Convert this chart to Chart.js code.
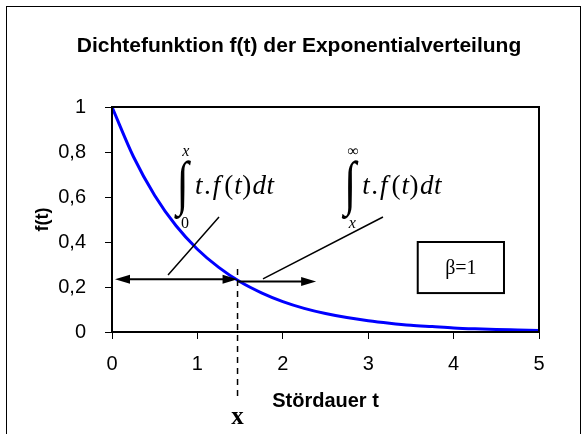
<!DOCTYPE html>
<html>
<head>
<meta charset="utf-8">
<script src="https://cdn.jsdelivr.net/npm/chart.js@4/dist/chart.umd.min.js"></script>
<style>
  html, body { margin: 0; padding: 0; background: #fff; }
  #wrap { position: relative; width: 584px; height: 434px; overflow: hidden; }
  #frame { position: absolute; left: 6px; top: 6px; width: 573px; height: 480px; border: 1.5px solid #000; }
  canvas { position: absolute; left: 0; top: 0; }
</style>
</head>
<body>
<div id="wrap">
  <div id="frame"></div>
  <canvas id="myChart" width="584" height="434"></canvas>
</div>
<script>
  // Werte
  const tValues = [0, 0.25, 0.5, 0.75, 1, 1.25, 1.5, 1.75, 2, 2.25, 2.5, 2.75, 3, 3.25, 3.5, 3.75, 4, 4.25, 4.5, 4.75, 5];
  const fValues = [1, 0.78, 0.607, 0.472, 0.368, 0.287, 0.223, 0.174, 0.135, 0.105, 0.082, 0.064, 0.05, 0.039, 0.03, 0.024, 0.018, 0.014, 0.011, 0.009, 0.007];
  const xTicks = [0, 1, 2, 3, 4, 5];
  const xTickLabels = ["0", "1", "2", "3", "4", "5"];
  const yTicks = [0, 0.2, 0.4, 0.6, 0.8, 1];
  const yTickLabels = ["0", "0,2", "0,4", "0,6", "0,8", "1"];
  const xMark = 1.47;        // Stelle x
  const arrowLevel = 0.235;  // Höhe der Pfeile

  const title = "Dichtefunktion f(t) der Exponentialverteilung";
  const xTitle = "Stördauer t";
  const yTitle = "f(t)";

  const serif = '"Liberation Serif", "Times New Roman", serif';
  const sans = '"Liberation Sans", Arial, sans-serif';

  function arrowHead(ctx, x, y, dir) {
    ctx.beginPath();
    ctx.moveTo(x, y);
    ctx.lineTo(x - dir * 15, y - 4.5);
    ctx.lineTo(x - dir * 15, y + 4.5);
    ctx.closePath();
    ctx.fill();
  }

  // Formel stückweise zeichnen: t.f(t)dt
  function formula(ctx, x, y) {
    const it = "italic 27px " + serif, rm = "27px " + serif;
    const parts = [[it, "t", 1.5], [rm, ".", 2], [it, "f", 4], [rm, "(", 1], [it, "t", 0.5], [rm, ")", 1.5], [it, "d", 0.5], [it, "t", 0]];
    let cx = x;
    ctx.textAlign = "left";
    ctx.textBaseline = "middle";
    for (const [f, s, gap] of parts) {
      ctx.font = f;
      ctx.fillText(s, cx, y);
      cx += ctx.measureText(s).width + gap;
    }
  }

  function integral(ctx, xs, ys, t, y, upper, lower) {
    const px = xs.getPixelForValue(t), py = ys.getPixelForValue(y);
    ctx.textAlign = "center";
    ctx.textBaseline = "middle";
    ctx.save();
    ctx.translate(px, py);
    ctx.scale(1.05, 1.42);
    ctx.font = "42px " + serif;
    ctx.fillText("\u222B", 0, 0);
    ctx.restore();
    ctx.font = (upper === "x" ? "italic " : "") + "16px " + serif;
    ctx.fillText(upper, px + 3, py - 35);
    ctx.font = (lower === "0" ? "" : "italic ") + "16px " + serif;
    ctx.fillText(lower, px + 2, py + 37);
    formula(ctx, px + 12, py);
  }

  const decorations = {
    id: "decorations",
    afterDraw(chart) {
      const ctx = chart.ctx;
      const xs = chart.scales.x, ys = chart.scales.y;
      const a = chart.chartArea;
      ctx.save();
      ctx.fillStyle = "#000";
      ctx.strokeStyle = "#000";

      // Rahmen der Zeichenfläche
      ctx.lineWidth = 2;
      ctx.strokeRect(a.left, a.top, a.right - a.left, a.bottom - a.top);

      // Titel und Achsentitel
      ctx.textAlign = "center";
      ctx.textBaseline = "middle";
      ctx.font = "bold 21px " + sans;
      ctx.fillText(title, 299, 46);
      ctx.font = "bold 20px " + sans;
      ctx.fillText(xTitle, (a.left + a.right) / 2, 401);
      ctx.save();
      ctx.translate(43, (a.top + a.bottom) / 2);
      ctx.rotate(-Math.PI / 2);
      ctx.font = "bold 18px " + sans;
      ctx.fillText(yTitle, 0, 0);
      ctx.restore();

      // gestrichelte Linie bei x
      const mx = xs.getPixelForValue(xMark);
      ctx.lineWidth = 1.5;
      ctx.setLineDash([6, 5]);
      ctx.beginPath();
      ctx.moveTo(mx, ys.getPixelForValue(0.28));
      ctx.lineTo(mx, ys.getPixelForValue(-0.29));
      ctx.stroke();
      ctx.setLineDash([]);
      ctx.font = "bold 25px " + serif;
      ctx.fillText("x", mx, ys.getPixelForValue(-0.378));

      // Pfeile
      ctx.lineWidth = 2;
      const ly = ys.getPixelForValue(arrowLevel);
      const lx0 = xs.getPixelForValue(0.035);
      ctx.beginPath();
      ctx.moveTo(lx0 + 10, ly);
      ctx.lineTo(mx - 10, ly);
      ctx.stroke();
      arrowHead(ctx, lx0, ly, -1);
      arrowHead(ctx, mx, ly, 1);
      const ry = ys.getPixelForValue(arrowLevel - 0.01);
      const rx1 = xs.getPixelForValue(2.39);
      ctx.beginPath();
      ctx.moveTo(mx, ry);
      ctx.lineTo(rx1 - 10, ry);
      ctx.stroke();
      arrowHead(ctx, rx1, ry, 1);

      // Hinweislinien
      ctx.lineWidth = 1.5;
      ctx.beginPath();
      ctx.moveTo(xs.getPixelForValue(0.656), ys.getPixelForValue(0.253));
      ctx.lineTo(xs.getPixelForValue(1.253), ys.getPixelForValue(0.511));
      ctx.moveTo(xs.getPixelForValue(1.768), ys.getPixelForValue(0.236));
      ctx.lineTo(xs.getPixelForValue(3.173), ys.getPixelForValue(0.511));
      ctx.stroke();

      // Integrale
      integral(ctx, xs, ys, 0.83, 0.645, "x", "0");
      integral(ctx, xs, ys, 2.79, 0.645, "\u221E", "x");

      // Beta-Kasten
      const bx0 = xs.getPixelForValue(3.58), bx1 = xs.getPixelForValue(4.59);
      const by0 = ys.getPixelForValue(0.40), by1 = ys.getPixelForValue(0.173);
      ctx.lineWidth = 2;
      ctx.strokeRect(bx0, by0, bx1 - bx0, by1 - by0);
      ctx.font = "20px " + serif;
      ctx.textAlign = "center";
      ctx.fillText("\u03B2=1", (bx0 + bx1) / 2, (by0 + by1) / 2 + 1);
      ctx.restore();
    }
  };

  const points = tValues.map((t, i) => ({ x: t, y: fValues[i] }));

  new Chart(document.getElementById("myChart"), {
    type: "line",
    data: {
      datasets: [{
        data: points,
        borderColor: "#0000ff",
        borderWidth: 3,
        pointRadius: 0,
        cubicInterpolationMode: "monotone",
        fill: false
      }]
    },
    options: {
      responsive: false,
      animation: false,
      layout: { padding: { top: 107, right: 45, left: 0, bottom: 0 } },
      plugins: { legend: { display: false }, title: { display: false }, tooltip: { enabled: false } },
      scales: {
        x: {
          type: "linear",
          min: 0, max: 5,
          afterBuildTicks: s => { s.ticks = xTicks.map(v => ({ value: v })); },
          afterFit: s => { s.height = 102; },
          ticks: {
            color: "#000",
            font: { family: sans, size: 20 },
            padding: 13,
            maxRotation: 0,
            callback: (v, i) => xTickLabels[i]
          },
          grid: { drawOnChartArea: false, drawTicks: true, tickLength: 7, color: "#000", lineWidth: 1 },
          border: { display: true, color: "#000", width: 2 }
        },
        y: {
          min: 0, max: 1,
          afterBuildTicks: s => { s.ticks = yTicks.map(v => ({ value: v })); },
          afterFit: s => { s.width = 112; },
          ticks: {
            color: "#000",
            font: { family: sans, size: 20 },
            padding: 19,
            callback: (v, i) => yTickLabels[i]
          },
          grid: { drawOnChartArea: false, drawTicks: true, tickLength: 7, color: "#000", lineWidth: 1 },
          border: { display: true, color: "#000", width: 2 }
        }
      }
    },
    plugins: [decorations]
  });
</script>
</body>
</html>
